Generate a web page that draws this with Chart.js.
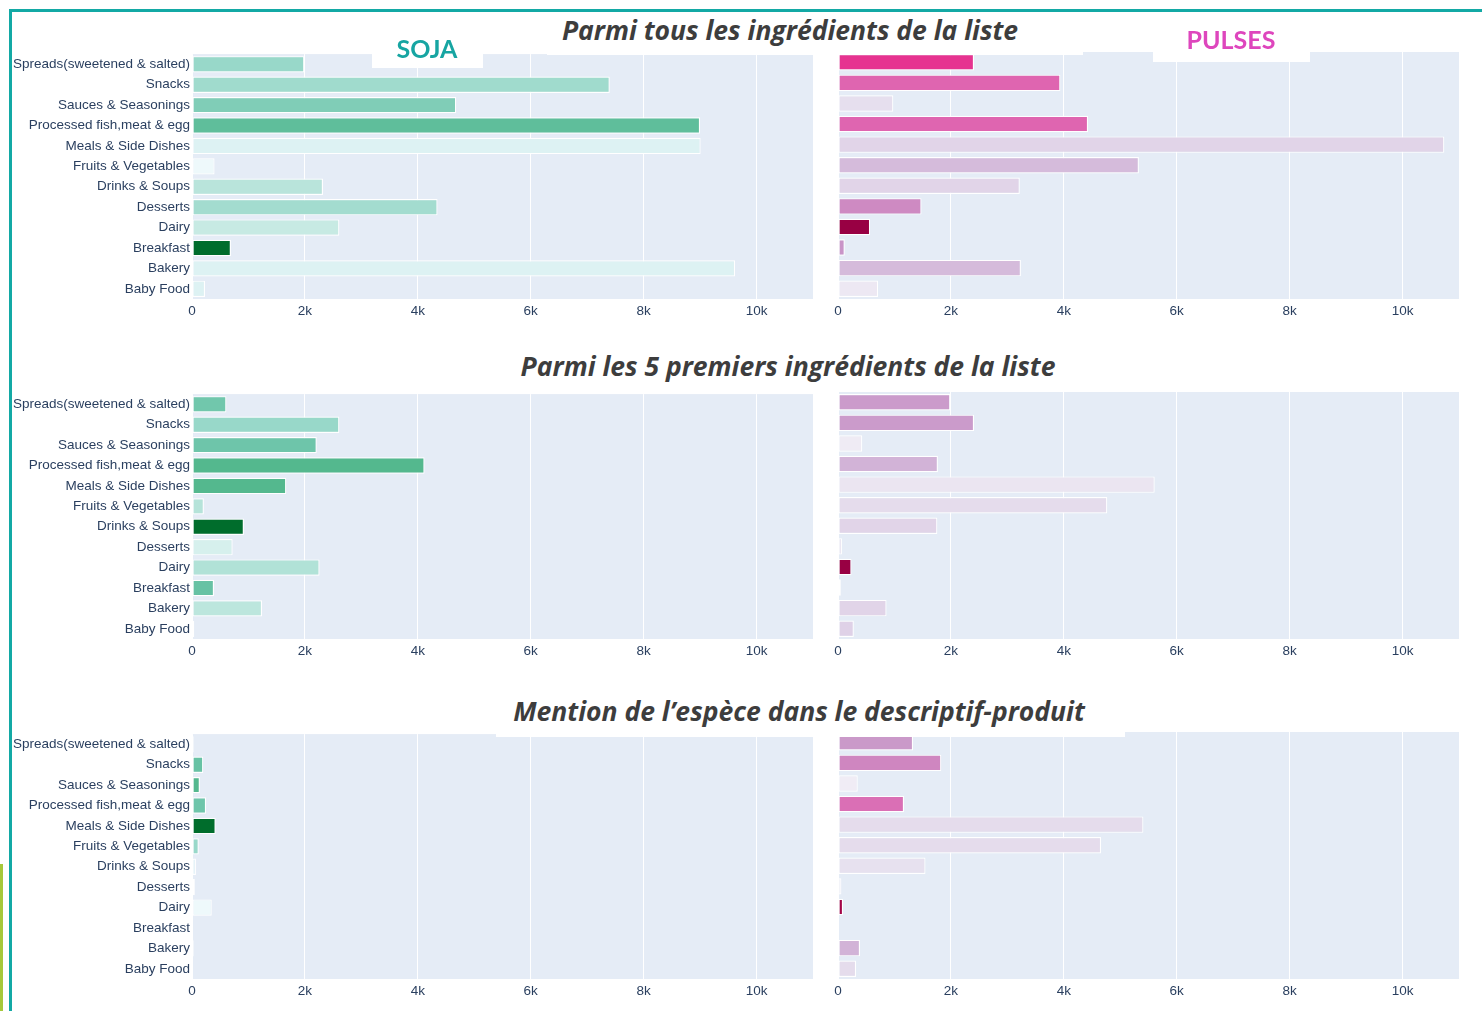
<!DOCTYPE html>
<html>
<head>
<meta charset="utf-8">
<script src="https://cdn.jsdelivr.net/npm/chart.js@4.4.1/dist/chart.umd.min.js"></script>
<style>
  body { margin: 0; background: #fff; }
  #page { position: relative; width: 1482px; height: 1011px; overflow: hidden; background: #fff; }
  canvas { position: absolute; }
  .line { position: absolute; }
  .box { position: absolute; background: #fff; }
  .title { position: absolute; transform: translate(-50%, -50%); white-space: nowrap;
           font-family: "Open Sans", Lato, sans-serif; font-style: italic; font-weight: 700;
           font-size: 26.5px; color: #3d3d3d; }
  .tag { position: absolute; transform: translate(-50%, -50%); white-space: nowrap;
         font-family: Lato, "Open Sans", sans-serif; font-weight: 700; font-size: 25px; }
</style>
</head>
<body>
<div id="page">
  <div class="line" style="left:10px;top:9px;width:1472px;height:3px;background:#13a9a5"></div>
  <div class="line" style="left:9px;top:9px;width:3px;height:1002px;background:#13a9a5"></div>
  <div class="line" style="left:0;top:864px;width:3px;height:147px;background:#a6c83a"></div>

  <canvas id="soja1"></canvas>
  <canvas id="pulses1"></canvas>
  <canvas id="soja2"></canvas>
  <canvas id="pulses2"></canvas>
  <canvas id="soja3"></canvas>
  <canvas id="pulses3"></canvas>

  <div class="box" style="left:547px;top:12px;width:536px;height:43px"></div>
  <div class="box" style="left:372px;top:36px;width:111px;height:32px"></div>
  <div class="box" style="left:1153px;top:24px;width:157px;height:38px"></div>
  <div class="box" style="left:496px;top:692px;width:629px;height:45px"></div>

  <div class="title" style="left:790px;top:30px">Parmi tous les ingrédients de la liste</div>
  <div class="title" style="left:788px;top:366px">Parmi les 5 premiers ingrédients de la liste</div>
  <div class="title" style="left:799px;top:711px">Mention de l’espèce dans le descriptif-produit</div>
  <div class="tag" style="left:427px;top:48px;color:#17a5a2">SOJA</div>
  <div class="tag" style="left:1231px;top:39px;color:#de46bd">PULSES</div>
</div>
<script>
const categories = [
  'Spreads(sweetened & salted)', 'Snacks', 'Sauces & Seasonings', 'Processed fish,meat & egg',
  'Meals & Side Dishes', 'Fruits & Vegetables', 'Drinks & Soups', 'Desserts',
  'Dairy', 'Breakfast', 'Bakery', 'Baby Food'
];

// number of products per category
const sojaTous = [1990, 7400, 4680, 9000, 9010, 400, 2320, 4350, 2610, 690, 9620, 230];
const pulsesTous = [2410, 3940, 980, 4430, 10740, 5330, 3220, 1480, 570, 120, 3240, 710];
const soja5 = [610, 2610, 2210, 4120, 1670, 210, 920, 720, 2260, 390, 1240, 40];
const pulses5 = [1990, 2410, 430, 1770, 5610, 4770, 1760, 70, 240, 50, 860, 280];
const sojaMention = [30, 200, 140, 250, 420, 120, 70, 50, 350, 10, 30, 20];
const pulsesMention = [1330, 1830, 350, 1170, 5410, 4660, 1550, 60, 90, 20, 390, 320];

// colour variable (0..1) of each bar
const sojaTousShade = [0.43, 0.41, 0.50, 0.60, 0.19, 0.07, 0.34, 0.40, 0.30, 1.0, 0.19, 0.19];
const pulsesTousShade = [0.69, 0.57, 0.15, 0.57, 0.19, 0.28, 0.19, 0.46, 1.0, 0.43, 0.28, 0.09];
const soja5Shade = [0.54, 0.43, 0.55, 0.64, 0.64, 0.35, 1.0, 0.23, 0.36, 0.57, 0.33, 0.0];
const pulses5Shade = [0.40, 0.40, 0.07, 0.31, 0.11, 0.16, 0.19, 0.11, 1.0, 0.05, 0.19, 0.20];
const sojaMentionShade = [0.02, 0.57, 0.64, 0.55, 1.0, 0.43, 0.14, 0.05, 0.07, 0.0, 0.02, 0.02];
const pulsesMentionShade = [0.41, 0.47, 0.06, 0.54, 0.16, 0.16, 0.14, 0.10, 0.97, 0.0, 0.31, 0.16];

const xMax = 11000;
const xTicks = [0, 2000, 4000, 6000, 8000, 10000];

// colour scales
const BUGN = [[247,252,253],[229,245,249],[204,236,230],[153,216,201],[102,194,164],[65,174,118],[35,139,69],[0,109,44]];
const PURD = [[247,244,249],[231,225,239],[212,185,218],[201,148,199],[223,101,176],[231,41,138],[206,18,86],[152,0,67]];

function scaleColor(stops, t) {
    t = Math.max(0, Math.min(1, t));
    const p = t * (stops.length - 1);
    const i = Math.min(Math.floor(p), stops.length - 2);
    const f = p - i;
    const c = stops[i].map((v, k) => Math.round(v + (stops[i + 1][k] - v) * f));
    return 'rgb(' + c.join(',') + ')';
}

const plotBg = {
    id: 'plotBg',
    beforeDraw(chart) {
        const a = chart.chartArea;
        chart.ctx.save();
        chart.ctx.fillStyle = '#E5ECF6';
        chart.ctx.fillRect(a.left, a.top, a.right - a.left, a.bottom - a.top);
        chart.ctx.restore();
    }
};

const tickFont = { family: '"Liberation Sans", Arial, sans-serif', size: 13.5 };

function panel(id, values, shades, stops, leftCol, plotTop) {
    const el = document.getElementById(id);
    const left = leftCol ? 12 : 818;
    const yWidth = leftCol ? 180 : 20;
    const w = yWidth + 621 + 6;
    const h = 8 + 247 + 24;
    el.width = w; el.height = h;
    el.style.left = left + 'px';
    el.style.top = (plotTop - 8) + 'px';
    el.style.width = w + 'px';
    el.style.height = h + 'px';

    return new Chart(el, {
        type: 'bar',
        data: {
            labels: categories,
            datasets: [{
                data: values,
                backgroundColor: shades.map(s => scaleColor(stops, s)),
                borderColor: '#ffffff',
                borderWidth: 1.2,
                borderSkipped: false,
                barPercentage: 1,
                categoryPercentage: 0.8
            }]
        },
        options: {
            indexAxis: 'y',
            responsive: false,
            animation: false,
            layout: { padding: { top: 8, right: 6, bottom: 0, left: 0 } },
            plugins: {
                legend: { display: false },
                tooltip: { enabled: false }
            },
            scales: {
                x: {
                    min: 0,
                    max: xMax,
                    grid: { color: '#ffffff', lineWidth: 1, drawTicks: false },
                    border: { display: false },
                    afterBuildTicks: s => { s.ticks = xTicks.map(v => ({ value: v })); },
                    ticks: {
                        maxRotation: 0,
                        padding: 4,
                        color: '#2a3f5f',
                        font: tickFont,
                        callback: v => v === 0 ? '0' : (v / 1000) + 'k'
                    },
                    afterFit: s => { s.height = 24; }
                },
                y: {
                    grid: { display: false, drawTicks: false },
                    border: { display: false },
                    ticks: { display: leftCol, padding: 2, color: '#2a3f5f', font: tickFont },
                    afterFit: s => { s.width = yWidth; }
                }
            }
        },
        plugins: [plotBg]
    });
}

panel('soja1', sojaTous, sojaTousShade, BUGN, true, 52);
panel('pulses1', pulsesTous, pulsesTousShade, PURD, false, 52);
panel('soja2', soja5, soja5Shade, BUGN, true, 392);
panel('pulses2', pulses5, pulses5Shade, PURD, false, 392);
panel('soja3', sojaMention, sojaMentionShade, BUGN, true, 732);
panel('pulses3', pulsesMention, pulsesMentionShade, PURD, false, 732);
</script>
</body>
</html>
